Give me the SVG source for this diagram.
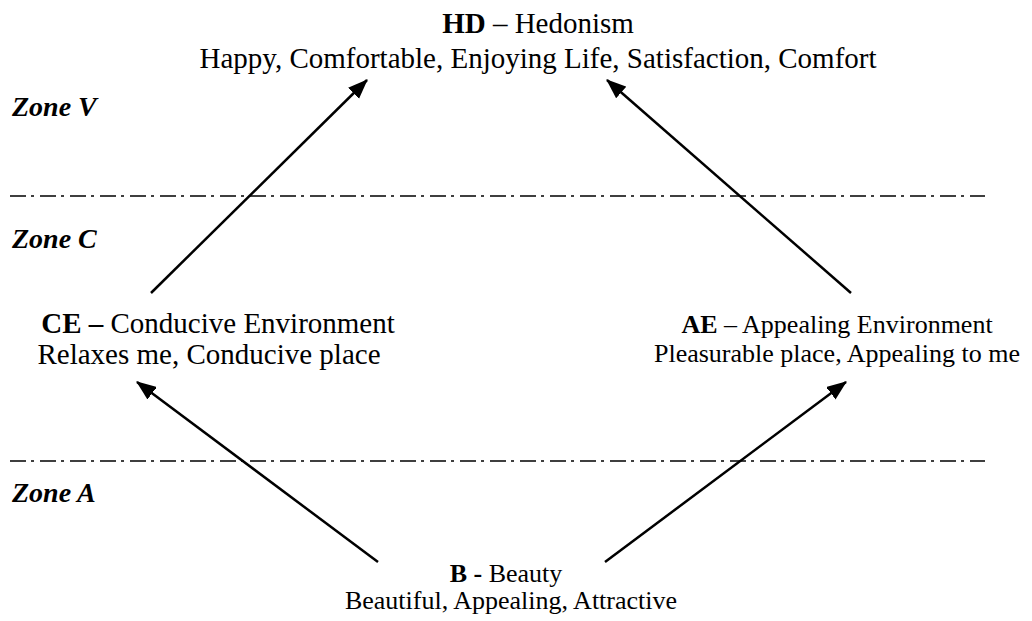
<svg xmlns="http://www.w3.org/2000/svg" width="1032" height="621" viewBox="0 0 1032 621">
<style>
text{font-family:"Liberation Serif","Times New Roman",serif;fill:#000}
.t{font-size:29px}
.s{font-size:26px}
.zone{font-size:28px;font-weight:bold;font-style:italic}
.b{font-weight:bold}
.m{text-anchor:middle}
.dash{stroke:#000;stroke-width:1.5;fill:none;stroke-dasharray:16 5 3 6}
.arr{stroke:#000;stroke-width:2.5;fill:none;marker-end:url(#ah)}
</style>
<defs>
<marker id="ah" markerUnits="userSpaceOnUse" markerWidth="20" markerHeight="16" viewBox="0 0 18 14" refX="17" refY="7" orient="auto">
<path d="M0,0 L18,7 L0,14 Z" fill="#000"/>
</marker>
</defs>
<rect width="1032" height="621" fill="#fff"/>
<g id="zones">
<line class="dash" x1="10" y1="196" x2="985" y2="196"/>
<line class="dash" x1="10" y1="461" x2="985" y2="461"/>
<text class="zone" x="12" y="116">Zone V</text>
<text class="zone" x="12" y="248">Zone C</text>
<text class="zone" x="12" y="502">Zone A</text>
</g>
<g id="connectors">
<line class="arr" x1="151" y1="293" x2="367" y2="80"/>
<line class="arr" x1="851" y1="293" x2="607" y2="80"/>
<line class="arr" x1="378" y1="562" x2="137" y2="382"/>
<line class="arr" x1="605" y1="562" x2="846" y2="382"/>
</g>
<g id="HD">
<text class="t m" x="538" y="33"><tspan class="b">HD</tspan> – Hedonism</text>
<text class="t m" x="538" y="68">Happy, Comfortable, Enjoying Life, Satisfaction, Comfort</text>
</g>
<g id="CE">
<text class="t m" x="218" y="333"><tspan class="b">CE –</tspan> Conducive Environment</text>
<text class="t m" x="209" y="364">Relaxes me, Conducive place</text>
</g>
<g id="AE">
<text class="s m" x="837" y="333"><tspan class="b">AE</tspan> – Appealing Environment</text>
<text class="s m" x="837" y="362">Pleasurable place, Appealing to me</text>
</g>
<g id="B">
<text class="s m" x="506" y="582"><tspan class="b">B -</tspan> Beauty</text>
<text class="s m" x="511" y="609">Beautiful, Appealing, Attractive</text>
</g>
</svg>
